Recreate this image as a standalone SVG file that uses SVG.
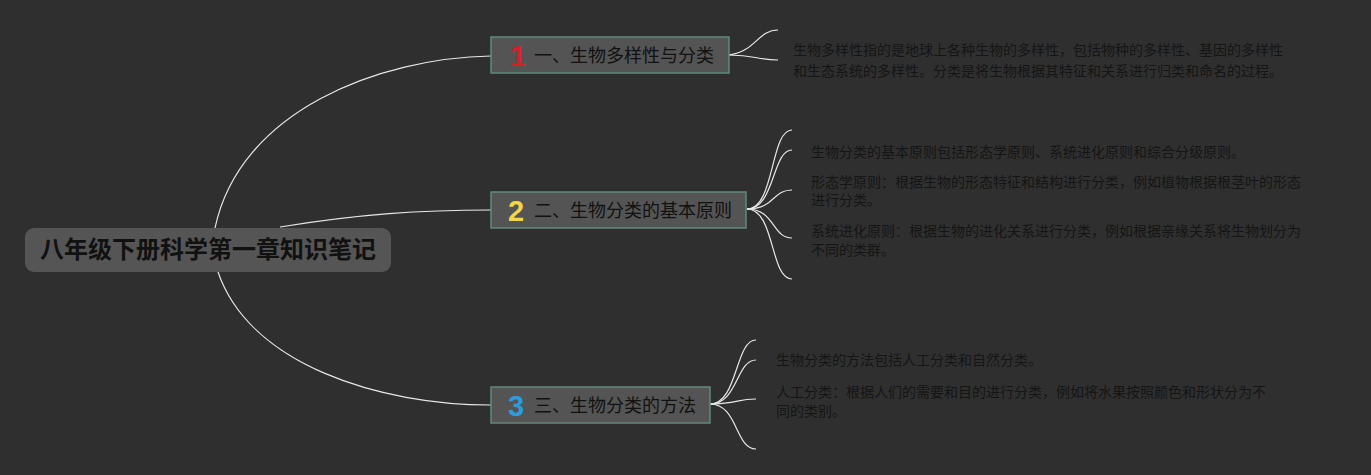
<svg xmlns="http://www.w3.org/2000/svg" width="1371" height="475" viewBox="0 0 1371 475">
<style>
.bg{fill:#2f2f2f}
.conn path{fill:none;stroke:#e8e8e8;stroke-width:1.2}
.box{fill:#545454;stroke:#5f8a78;stroke-width:1.5}
.lbl{font-family:"Noto Sans CJK SC","Noto Sans",sans-serif;font-size:18px;fill:#111}
.num{font-family:"Liberation Sans","Noto Sans",sans-serif;font-size:29px;font-weight:bold}
.note{font-family:"Noto Sans CJK SC","Noto Sans",sans-serif;font-size:14px;fill:#151515}
.root{font-family:"Noto Sans CJK SC",sans-serif;font-size:24px;font-weight:bold;fill:#111}
</style>
<rect class="bg" x="0" y="0" width="1371" height="475"/>
<g id="connectors" class="conn">
<path d="M215,228 C240,110 380,58 491,56"/>
<path d="M280,227 C360,214 420,210 491,210"/>
<path d="M218,272 C250,365 380,405 491,405"/>
<path d="M729,55 C755,52 758,30 778,30"/>
<path d="M729,55 C755,55 758,60 778,60"/>
<path d="M747,209 C775,209 770,130 792,130"/>
<path d="M747,209 C775,209 772,150 792,150"/>
<path d="M747,209 C775,209 772,190 792,190"/>
<path d="M747,209 C775,209 772,238 792,238"/>
<path d="M747,209 C775,209 770,279 792,279"/>
<path d="M710,404 C738,404 735,340 756,340"/>
<path d="M710,404 C738,404 736,360 756,360"/>
<path d="M710,404 C738,404 736,399 756,399"/>
<path d="M710,404 C738,404 735,449 756,449"/>
</g>
<g id="root">
<rect x="25" y="228" width="366" height="44" rx="9" fill="#555"/>
<text class="root" x="208" y="258" text-anchor="middle">八年级下册科学第一章知识笔记</text>
</g>
<g id="b1">
<rect class="box" x="491" y="37" width="238" height="36"/>
<text class="num" x="510" y="66" fill="#d5202c">1</text>
<text class="lbl" x="534" y="62">一、生物多样性与分类</text>
</g>
<g id="b2">
<rect class="box" x="491" y="192" width="255" height="36"/>
<text class="num" x="508" y="221" fill="#f2d548">2</text>
<text class="lbl" x="534" y="217">二、生物分类的基本原则</text>
</g>
<g id="b3">
<rect class="box" x="491" y="387" width="219" height="36"/>
<text class="num" x="508" y="416" fill="#2a9de0">3</text>
<text class="lbl" x="534" y="412">三、生物分类的方法</text>
</g>
<g id="n1">
<text class="note" x="793" y="55">生物多样性指的是地球上各种生物的多样性，包括物种的多样性、基因的多样性</text>
<text class="note" x="793" y="76">和生态系统的多样性。分类是将生物根据其特征和关系进行归类和命名的过程。</text>
</g>
<g id="n2">
<text class="note" x="811" y="157">生物分类的基本原则包括形态学原则、系统进化原则和综合分级原则。</text>
</g>
<g id="n3">
<text class="note" x="811" y="187">形态学原则：根据生物的形态特征和结构进行分类，例如植物根据根茎叶的形态</text>
<text class="note" x="811" y="205">进行分类。</text>
</g>
<g id="n4">
<text class="note" x="811" y="236">系统进化原则：根据生物的进化关系进行分类，例如根据亲缘关系将生物划分为</text>
<text class="note" x="811" y="255">不同的类群。</text>
</g>
<g id="n5">
<text class="note" x="776" y="365">生物分类的方法包括人工分类和自然分类。</text>
</g>
<g id="n6">
<text class="note" x="776" y="397">人工分类：根据人们的需要和目的进行分类，例如将水果按照颜色和形状分为不</text>
<text class="note" x="776" y="416">同的类别。</text>
</g>
</svg>
